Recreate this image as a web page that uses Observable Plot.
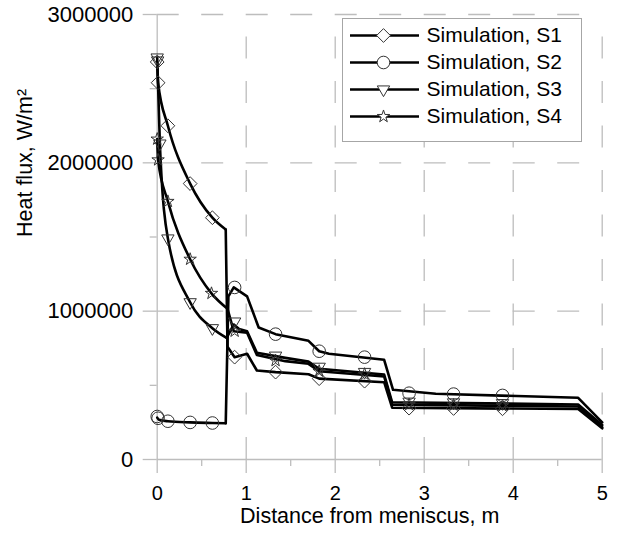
<!DOCTYPE html>
<html>
<head>
<meta charset="utf-8">
<script src="https://cdn.jsdelivr.net/npm/d3@7"></script>
<script src="https://cdn.jsdelivr.net/npm/@observablehq/plot@0.6"></script>
<style>
html, body { margin: 0; padding: 0; background: #fff; }
#wrap { position: relative; width: 618px; height: 533px; overflow: hidden; background: #fff; }
#wrap > svg { display: block; }
#legend { position: absolute; left: 342px; top: 18px; width: 238px; height: 122px; border: 1px solid #a6a6a6; background: #fff; }
#legend svg { display: block; }
</style>
</head>
<body>
<div id="wrap"><div id="legend"></div></div>
<script>
// ---- tick values ----
const xMajor = [0, 1, 2, 3, 4, 5];
const xMinor = [0.5, 1.5, 2.5, 3.5, 4.5];
const yMajor = [0, 1000000, 2000000, 3000000];
const yMinor = [500000, 1500000, 2500000];
const xGrid = [1, 2, 3, 4, 5];
const yGrid = [1000000, 2000000, 3000000];

const xTitle = "Distance from meniscus, m";
const yTitle = "Heat flux, W/m²";
const seriesNames = ["Simulation, S1", "Simulation, S2", "Simulation, S3", "Simulation, S4"];

// ---- S1 (diamonds) ----
const s1Smooth = [[0, 2680000], [0.01, 2540000], [0.12, 2250000], [0.37, 1860000], [0.62, 1630000], [0.77, 1550000]];
const s1Rest = [[0.77, 1550000], [0.79, 760000], [0.87, 690000], [1.01, 713000], [1.12, 600000], [1.33, 589000], [1.70, 575000], [1.82, 545000], [2.55, 521000], [2.64, 349000], [4.73, 340000], [5, 210000]];
const s1Marks = [[0, 2680000], [0.01, 2540000], [0.12, 2250000], [0.37, 1860000], [0.62, 1630000], [0.87, 690000], [1.33, 589000], [1.82, 545000], [2.33, 528000], [2.83, 346000], [3.33, 344000], [3.88, 342000]];

// ---- S2 (circles) ----
const s2Smooth = [[0, 282000], [0.02, 268000], [0.12, 258000], [0.37, 250000], [0.62, 246000], [0.77, 244000]];
const s2Rest = [[0.77, 244000], [0.80, 1100000], [0.86, 1160000], [1.01, 1100000], [1.14, 890000], [1.33, 845000], [1.70, 800000], [1.82, 730000], [1.93, 713000], [2.55, 672000], [2.65, 470000], [3.13, 443000], [4.73, 416000], [5, 250000]];
const s2Marks = [[0, 290000], [0.01, 278000], [0.12, 258000], [0.37, 250000], [0.62, 246000], [0.87, 1160000], [1.33, 845000], [1.82, 730000], [2.33, 690000], [2.83, 447000], [3.33, 441000], [3.88, 432000]];

// ---- S3 (down triangles) ----
const s3Smooth = [[0, 2710000], [0.03, 2130000], [0.12, 1490000], [0.37, 1060000], [0.62, 885000], [0.78, 820000]];
const s3Rest = [[0.78, 820000], [0.86, 910000], [0.92, 880000], [1.01, 865000], [1.12, 720000], [1.44, 685000], [1.70, 660000], [1.82, 612000], [2.55, 573000], [2.64, 386000], [4.73, 371000], [5, 232000]];
const s3Marks = [[0, 2710000], [0.005, 2690000], [0.03, 2130000], [0.12, 1490000], [0.37, 1060000], [0.62, 885000], [0.87, 930000], [1.33, 700000], [1.82, 625000], [2.33, 590000], [2.83, 390000], [3.33, 385000], [3.88, 380000]];

// ---- S4 (stars) ----
const s4Smooth = [[0, 2160000], [0.01, 2020000], [0.12, 1740000], [0.37, 1350000], [0.61, 1120000], [0.79, 1016000]];
const s4Rest = [[0.79, 1016000], [0.86, 865000], [1.01, 855000], [1.12, 705000], [1.44, 663000], [1.70, 645000], [1.82, 595000], [2.55, 560000], [2.64, 370000], [4.73, 357000], [5, 218000]];
const s4Marks = [[0, 2160000], [0.01, 2020000], [0.12, 1740000], [0.37, 1350000], [0.61, 1120000], [0.87, 865000], [1.33, 667000], [1.82, 595000], [2.33, 575000], [2.83, 370000], [3.33, 367000], [3.88, 363000]];

// ---- styling ----
const GRID = "#bdbdbd";
const FONT = "'Liberation Sans', Arial, Helvetica, sans-serif";
const LINE_W = 2.6;
const symbols = ["diamond2", "circle", "triangle", "star"];
const symR = [6.2, 6.3, 4.6, 3.9];
const symRot = [0, 0, 180, 0];

const rows = (name, pts) => pts.map(([x, y]) => ({s: name, x, y}));
const smoothRows = [s1Smooth, s2Smooth, s3Smooth, s4Smooth].flatMap((p, i) => rows(seriesNames[i], p));
const restRows = [s1Rest, s2Rest, s3Rest, s4Rest].flatMap((p, i) => rows(seriesNames[i], p));
const markSets = [s1Marks, s2Marks, s3Marks, s4Marks].map((p, i) => rows(seriesNames[i], p));

const dotMarks = markSets.map((data, i) => Plot.dot(data, {
  x: "x", y: "y", symbol: symbols[i], r: symR[i], rotate: symRot[i],
  stroke: "#333", strokeWidth: 1, fill: "none"
}));

const chart = Plot.plot({
  width: 618, height: 533,
  marginLeft: 156.7, marginRight: 16.3, marginTop: 14, marginBottom: 74,
  style: {background: "#fff", fontFamily: FONT, fontSize: "22px", color: "#000", overflow: "visible"},
  x: {domain: [0, 5]},
  y: {domain: [0, 3000000]},
  marks: [
    Plot.ruleX(xGrid, {y1: 0, y2: 3000000, stroke: GRID, strokeWidth: 1.3, strokeDasharray: "22,22.5"}),
    Plot.ruleY(yGrid, {x1: 0, x2: 5, stroke: GRID, strokeWidth: 1.3, strokeDasharray: "22,22.5"}),
    Plot.ruleX([0], {y1: 0, y2: 3000000, stroke: GRID, strokeWidth: 1.3}),
    Plot.ruleY([0], {x1: 0, x2: 5, stroke: GRID, strokeWidth: 1.3}),
    Plot.axisX(xMajor, {tickSize: 14, stroke: GRID, strokeWidth: 1.3, fill: "none", label: null}),
    Plot.axisX(xMinor, {tickSize: 7, stroke: GRID, strokeWidth: 1.3, fill: "none", label: null}),
    Plot.axisY(yMajor, {tickSize: 14, stroke: GRID, strokeWidth: 1.3, fill: "none", label: null}),
    Plot.axisY(yMinor, {tickSize: 7, stroke: GRID, strokeWidth: 1.3, fill: "none", label: null}),
    Plot.axisX(xMajor, {tickSize: 0, tickPadding: 26, label: null, fill: "#000", fontSize: 20}),
    Plot.axisY(yMajor, {tickSize: 0, tickPadding: 24, label: null, fill: "#000", fontSize: 22, tickFormat: d3.format("d")}),
    Plot.text([xTitle], {frameAnchor: "bottom", dy: 63, dx: -10, fontSize: 21.5, fill: "#000"}),
    Plot.text([yTitle], {frameAnchor: "left", dx: -131.7, rotate: -90, fontSize: 21.5, fill: "#000"}),
    Plot.line(smoothRows, {x: "x", y: "y", z: "s", curve: "monotone-x", stroke: "#000", strokeWidth: LINE_W, strokeLinecap: "round", strokeLinejoin: "round"}),
    Plot.line(restRows, {x: "x", y: "y", z: "s", curve: "linear", stroke: "#000", strokeWidth: LINE_W, strokeLinecap: "round", strokeLinejoin: "round"}),
    ...dotMarks
  ]
});
const wrap = document.getElementById("wrap");
wrap.insertBefore(chart, wrap.firstChild);

// ---- legend (inside plot area, top right) ----
const legendRows = seriesNames.map((name, i) => ({name, i, y: 16 + 27 * i}));
const legend = Plot.plot({
  width: 238, height: 122,
  marginLeft: 0, marginRight: 0, marginTop: 0, marginBottom: 0,
  x: {domain: [0, 238], range: [0, 238], axis: null},
  y: {domain: [0, 122], range: [0, 122], axis: null},
  style: {background: "transparent", fontFamily: FONT, fontSize: "21px", color: "#000"},
  marks: [
    Plot.ruleY(legendRows, {y: "y", x1: 7, x2: 76, stroke: "#000", strokeWidth: LINE_W}),
    ...legendRows.map((d, i) => Plot.dot([d], {
      x: 40, y: "y", symbol: symbols[i], r: symR[i], rotate: symRot[i],
      stroke: "#333", strokeWidth: 1, fill: "#fff"
    })),
    Plot.text(legendRows, {x: 83, y: "y", text: "name", textAnchor: "start", fontSize: 21, fill: "#000"})
  ]
});
document.getElementById("legend").appendChild(legend);
</script>
</body>
</html>
